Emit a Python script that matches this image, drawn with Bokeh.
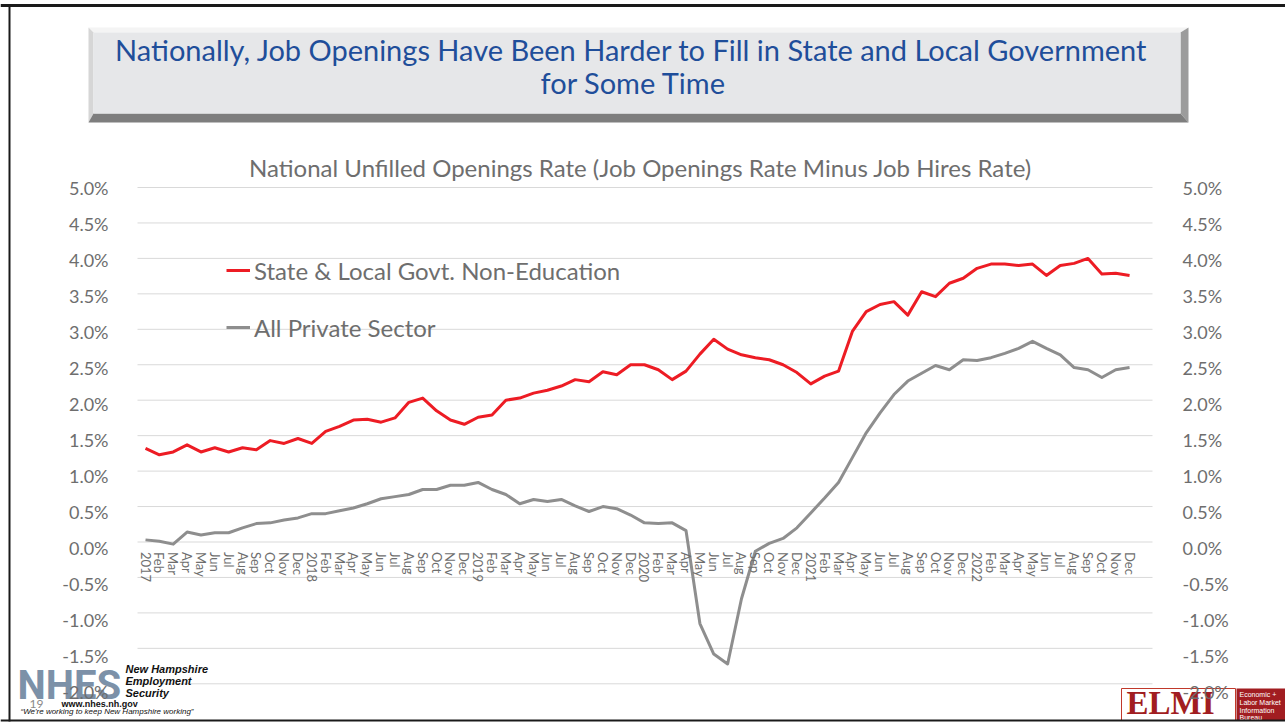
from bokeh.plotting import figure
from bokeh.models import (Range1d, LinearAxis, FixedTicker, PrintfTickFormatter,
                          Legend, LegendItem)
from bokeh.core.properties import value
from bokeh.embed import file_html
from bokeh.resources import INLINE

# ---------------- data ----------------
months = ["2017", "Feb", "Mar", "Apr", "May", "Jun", "Jul", "Aug", "Sep", "Oct", "Nov", "Dec",
          "2018", "Feb", "Mar", "Apr", "May", "Jun", "Jul", "Aug", "Sep", "Oct", "Nov", "Dec",
          "2019", "Feb", "Mar", "Apr", "May", "Jun", "Jul", "Aug", "Sep", "Oct", "Nov", "Dec",
          "2020", "Feb", "Mar", "Apr", "May", "Jun", "Jul", "Aug", "Sep", "Oct", "Nov", "Dec",
          "2021", "Feb", "Mar", "Apr", "May", "Jun", "Jul", "Aug", "Sep", "Oct", "Nov", "Dec",
          "2022", "Feb", "Mar", "Apr", "May", "Jun", "Jul", "Aug", "Sep", "Oct", "Nov", "Dec"]

state_local = [1.32, 1.23, 1.27, 1.37, 1.27, 1.33, 1.27, 1.33, 1.30, 1.43, 1.39, 1.46,
               1.39, 1.56, 1.63, 1.72, 1.73, 1.69, 1.75, 1.97, 2.03, 1.85, 1.72, 1.66,
               1.76, 1.79, 2.00, 2.03, 2.10, 2.14, 2.20, 2.29, 2.26, 2.40, 2.36, 2.50,
               2.50, 2.43, 2.29, 2.41, 2.65, 2.86, 2.72, 2.64, 2.60, 2.57, 2.50, 2.39,
               2.23, 2.34, 2.41, 2.97, 3.25, 3.35, 3.39, 3.20, 3.53, 3.46, 3.65, 3.72,
               3.86, 3.92, 3.92, 3.90, 3.92, 3.76, 3.90, 3.93, 4.00, 3.78, 3.79, 3.76]

private_sector = [0.03, 0.01, -0.03, 0.14, 0.10, 0.13, 0.13, 0.20, 0.26, 0.27, 0.31, 0.34,
                  0.40, 0.40, 0.44, 0.48, 0.54, 0.61, 0.64, 0.67, 0.74, 0.74, 0.80, 0.80,
                  0.84, 0.74, 0.67, 0.54, 0.60, 0.57, 0.60, 0.51, 0.43, 0.50, 0.47, 0.38,
                  0.27, 0.26, 0.27, 0.16, -1.15, -1.58, -1.72, -0.80, -0.13, -0.02, 0.05, 0.20,
                  0.41, 0.62, 0.84, 1.19, 1.54, 1.82, 2.08, 2.27, 2.38, 2.49, 2.43, 2.57,
                  2.56, 2.60, 2.66, 2.73, 2.83, 2.73, 2.64, 2.46, 2.43, 2.32, 2.43, 2.46]

series_names = ["State & Local Govt. Non-Education", "All Private Sector"]
y_ticks = [-2.0, -1.5, -1.0, -0.5, 0.0, 0.5, 1.0, 1.5, 2.0, 2.5, 3.0, 3.5, 4.0, 4.5, 5.0]
slide_title = ["Nationally, Job Openings Have Been Harder to Fill in State and Local Government",
               "for Some Time"]
chart_title = "National Unfilled Openings Rate (Job Openings Rate Minus Job Hires Rate)"

# ---------------- layout helpers (pixels -> data) ----------------
W, H = 1285, 723
STEP, XP0 = 13.86, 145.0
YP0, YS = 541.5, 70.9


def X(px):
    return (px - XP0) / STEP


def Y(py):
    return (YP0 - py) / YS


def YL(py):  # tick-label scale (labels drift slightly from gridlines in the original)
    return 5.0 - (py - 187.0) / 72.0


TXT = "#6E6E6E"
RED = "#ED1C24"
GRAY = "#8E8E8E"
ELMI_RED = "#A11D21"

p = figure(width=W, height=H, x_range=Range1d(X(0), X(W)),
           y_range=Range1d(Y(H), Y(0)),
           x_axis_type=None, y_axis_type=None, output_backend="svg",
           toolbar_location=None, min_border=0, outline_line_color=None)
p.extra_y_ranges = {"lab": Range1d(YL(H), YL(0))}
p.background_fill_color = "white"
p.border_fill_color = "white"

# ---------------- title box (bevelled) ----------------
L, R, T, B = 88, 1188, 27, 122
l, r, t, b = 93, 1180, 32, 113
bev_xs = [[L, R, r, l], [L, l, l, L], [R, R, r, r], [L, R, r, l]]
bev_ys = [[T, T, t, t], [T, t, b, B], [T, B, b, t], [B, B, b, b]]
p.patches(xs=[[X(v) for v in s] for s in bev_xs], ys=[[Y(v) for v in s] for s in bev_ys],
          fill_color=["#F4F4F4", "#D6D6D6", "#9C9C9C", "#7E7E7E"], line_color=None)
p.quad(left=[X(l)], right=[X(r)], top=[Y(t)], bottom=[Y(b)],
       fill_color="#E6E7E9", line_color=None)
p.text(x=[X(631), X(633)], y=[Y(49), Y(82)], text=slide_title,
       text_align="center", text_baseline="middle", text_font=value("Lato"),
       text_font_size="29px", text_color="#1F4E9A")

# ---------------- chart title ----------------
p.text(x=[X(640)], y=[Y(167)], text=[chart_title], text_align="center",
       text_baseline="middle", text_font=value("Lato"), text_font_size="24px",
       text_color=TXT)

# ---------------- gridlines ----------------
n = len(y_ticks)
p.segment(x0=[X(137)] * n, x1=[X(1152)] * n, y0=y_ticks, y1=y_ticks,
          line_color="#D9D9D9", line_width=1)

# ---------------- logos ----------------
p.text(x=[X(17)], y=[Y(685)], text=["NHES"], text_align="left", text_baseline="middle",
       text_font=value("Roboto"), text_font_style="bold",
       text_font_size="40px", text_color="#7C91A8")
p.text(x=[X(125)] * 3, y=[Y(668), Y(680), Y(692)],
       text=["New Hampshire", "Employment", "Security"], text_align="left",
       text_baseline="middle", text_font=value("Liberation Sans"),
       text_font_style="bold italic", text_font_size="11px", text_color="#111111")
p.text(x=[X(61)], y=[Y(703)], text=["www.nhes.nh.gov"], text_align="left",
       text_baseline="middle", text_font=value("Liberation Sans"),
       text_font_style="bold", text_font_size="9px", text_color="#111111")
p.text(x=[X(20)], y=[Y(711)], text=["\u201cWe're working to keep New Hampshire working\u201d"],
       text_align="left", text_baseline="middle", text_font=value("Liberation Sans"),
       text_font_style="italic", text_font_size="8px", text_color="#111111")
p.text(x=[X(29)], y=[Y(703)], text=["19"], text_align="left", text_baseline="middle",
       text_font=value("Lato"), text_font_size="12px", text_color="#8A8A8A")

p.quad(left=[X(1121)], right=[X(1235)], top=[Y(688)], bottom=[Y(720)],
       fill_color="white", line_color="#C0392B", line_width=1)
p.text(x=[X(1126)], y=[Y(702)], text=["ELMI"], text_align="left",
       text_baseline="middle", text_font=value("Liberation Serif"),
       text_font_style="bold", text_font_size="33px", text_color=ELMI_RED)
p.quad(left=[X(1236)], right=[X(1290)], top=[Y(688)], bottom=[Y(720)],
       fill_color=ELMI_RED, line_color=None)
p.text(x=[X(1239)] * 4, y=[Y(694), Y(702), Y(710), Y(717)],
       text=["Economic +", "Labor Market", "Information", "Bureau"],
       text_align="left", text_baseline="middle", text_font=value("Liberation Sans"),
       text_font_size="7px", text_color="white")

# ---------------- slide frame ----------------
p.segment(x0=[X(0), X(9), X(0)], y0=[Y(5), Y(4), Y(720)],
          x1=[X(W), X(9), X(W)], y1=[Y(5), Y(721), Y(720)],
          line_color="#1A1A1A", line_width=[3, 2, 2])

# ---------------- series ----------------
idx = list(range(len(months)))
r_gray = p.line(idx, private_sector, line_color=GRAY, line_width=3, line_join="round")
r_red = p.line(idx, state_local, line_color=RED, line_width=3, line_join="round")

# ---------------- axes ----------------
for side, loc, stand in (("left", X(137), 23), ("right", X(1152), 24)):
    ax = LinearAxis(y_range_name="lab", fixed_location=loc,
                    ticker=FixedTicker(ticks=y_ticks, minor_ticks=[]),
                    formatter=PrintfTickFormatter(format="%.1f%%"),
                    axis_line_color=None, major_tick_line_color=None,
                    minor_tick_line_color=None, major_label_standoff=stand,
                    major_label_text_font="Lato", major_label_text_font_size="18px",
                    major_label_text_color=TXT)
    p.add_layout(ax, side)

xax = LinearAxis(fixed_location=0, ticker=FixedTicker(ticks=idx, minor_ticks=[]),
                 major_label_overrides={i: m for i, m in enumerate(months)},
                 major_label_orientation="vertical",
                 axis_line_color=None, major_tick_line_color=None,
                 minor_tick_line_color=None, major_label_standoff=4,
                 major_label_text_font="Lato", major_label_text_font_size="13px",
                 major_label_text_color=TXT)
p.add_layout(xax, "below")

# ---------------- legend ----------------
legend = Legend(items=[LegendItem(label=series_names[0], renderers=[r_red]),
                       LegendItem(label=series_names[1], renderers=[r_gray])],
                location=(226, 381), glyph_width=24, glyph_height=30, label_height=30,
                label_standoff=4, spacing=27, padding=0, margin=0,
                border_line_color=None, background_fill_alpha=0,
                label_text_font="Lato", label_text_font_size="24px",
                label_text_color=TXT)
p.add_layout(legend)

open("out.html", "w").write(file_html(p, INLINE))
